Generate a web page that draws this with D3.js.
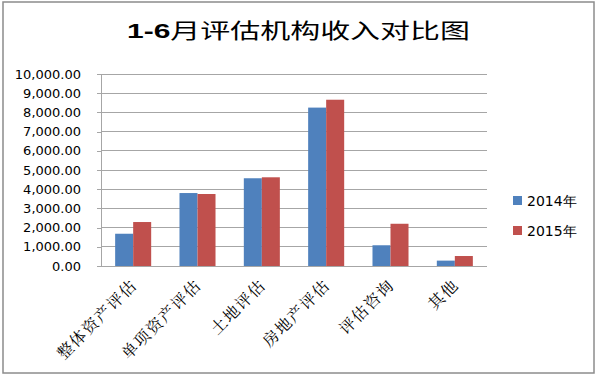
<!DOCTYPE html>
<html><head><meta charset="utf-8">
<script src="https://cdn.jsdelivr.net/npm/d3@7"></script>
<style>body{margin:0;background:#fff}svg{display:block}</style>
</head><body>
<svg id="c" width="600" height="376"></svg>
<script>
const title = "1-6月评估机构收入对比图";
const categories = ["整体资产评估","单项资产评估","土地评估","房地产评估","评估咨询","其他"];
const seriesNames = ["2014年","2015年"];
const values2014 = [1680, 3800, 4570, 8250, 1080, 280];
const values2015 = [2290, 3750, 4620, 8660, 2200, 520];
const yTicks = [0,1000,2000,3000,4000,5000,6000,7000,8000,9000,10000];
const colors = ["#4F81BD","#C0504D"];

const svg = d3.select("#c");
svg.append("rect").attr("x",3).attr("y",2).attr("width",591).attr("height",371)
  .attr("fill","#fff").attr("stroke","#8c8c8c").attr("stroke-width",1.5);

// title
const t = svg.append("text").attr("x",298.5).attr("y",38).attr("text-anchor","middle")
  .attr("font-family","'Noto Sans CJK SC', sans-serif").attr("font-size",21)
  .attr("textLength",343).attr("lengthAdjust","spacingAndGlyphs").attr("fill","#000");
t.append("tspan").attr("font-weight","bold").attr("font-family","'Liberation Sans', sans-serif").text(title.slice(0,3));
t.append("tspan").attr("font-weight","normal").text(title.slice(3));

const y = d3.scaleLinear().domain([0,10000]).range([266,74]);
const x0 = d3.scaleBand().domain(categories).range([101,487]).paddingInner(0.44).paddingOuter(0.22);
const x1 = d3.scaleBand().domain(seriesNames).range([0,x0.bandwidth()]);

// grid
svg.append("g").selectAll("line").data(yTicks).join("line")
  .attr("x1",101).attr("x2",487).attr("y1",d=>y(d)).attr("y2",d=>y(d))
  .attr("stroke","#a6a6a6").attr("stroke-width",1).attr("shape-rendering","crispEdges");

// y axis
const fmt = d3.format(",.2f");
const ya = svg.append("g").attr("transform","translate(101,0)")
  .call(d3.axisLeft(y).tickValues(yTicks).tickFormat(fmt).tickSize(4).tickPadding(16));
ya.select(".domain").attr("stroke","#a6a6a6");
ya.selectAll(".tick line").attr("stroke","#a6a6a6");
ya.selectAll("text").attr("font-family","'DejaVu Sans', sans-serif").attr("font-size",13).attr("fill","#000");
ya.attr("shape-rendering","crispEdges");

// bars
const series = [values2014, values2015];
const g = svg.append("g");
seriesNames.forEach((s,i)=>{
  g.append("g").selectAll("rect").data(categories).join("rect")
    .attr("x",c=>x0(c)+x1(s))
    .attr("width",x1.bandwidth())
    .attr("y",(c,j)=>y(series[i][j]))
    .attr("height",(c,j)=>y(0)-y(series[i][j]))
    .attr("fill",colors[i]);
});

// x axis line
svg.append("line").attr("x1",101).attr("x2",487).attr("y1",266).attr("y2",266)
  .attr("stroke","#a6a6a6").attr("shape-rendering","crispEdges");

// category labels
svg.append("g").selectAll("text").data(categories).join("text")
  .attr("transform",c=>`translate(${x0(c)+x0.bandwidth()/2+5},${286}) rotate(-45)`)
  .attr("text-anchor","end")
  .attr("font-family","'Noto Serif CJK SC','Noto Sans CJK SC', serif").attr("font-size",16)
  .attr("letter-spacing",1.5).attr("fill","#000")
  .text(c=>c);

// legend
const lg = svg.append("g").selectAll("g").data(seriesNames).join("g")
  .attr("transform",(d,i)=>`translate(513,${196+i*30})`);
lg.append("rect").attr("width",9).attr("height",9).attr("fill",(d,i)=>colors[i]);
lg.append("text").attr("x",14).attr("y",10).attr("font-family","'DejaVu Sans', sans-serif")
  .attr("font-size",14).attr("fill","#000").text(d=>d);
</script>
</body></html>
